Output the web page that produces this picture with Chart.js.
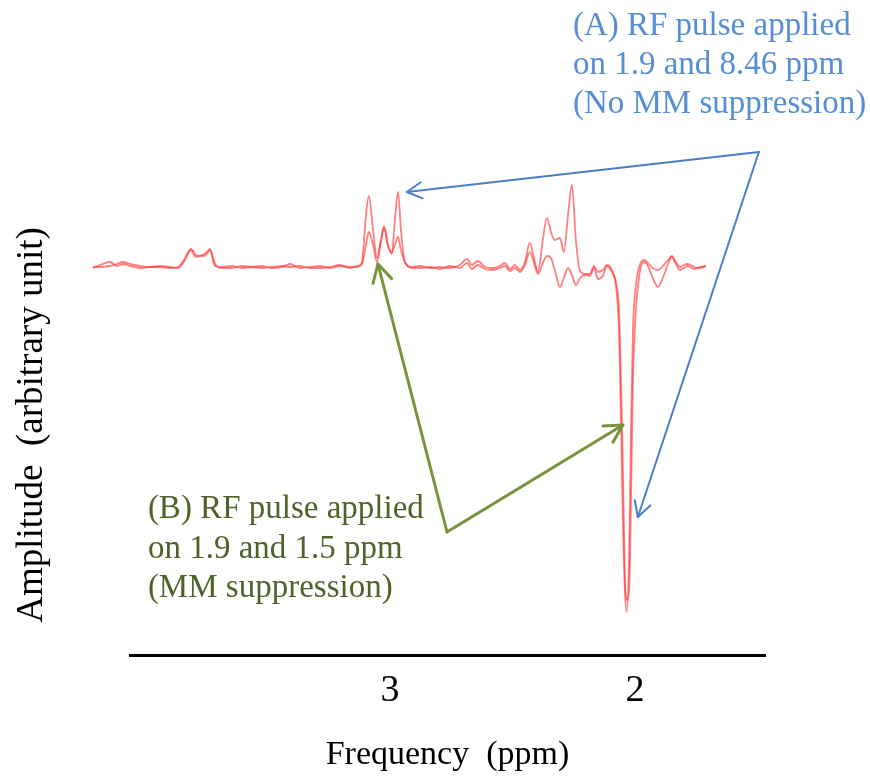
<!DOCTYPE html>
<html>
<head>
<meta charset="utf-8">
<script src="https://cdn.jsdelivr.net/npm/chart.js@4/dist/chart.umd.min.js"></script>
<style>
  body { margin: 0; background: #fff; }
  canvas { display: block; }
</style>
</head>
<body>
<canvas id="myChart" width="870" height="778"></canvas>
<script>
// frequency axis (ppm), shared by both spectra
const ppm = [
  4.212, 4.184, 4.143, 4.114, 4.090, 4.061, 4.020, 3.980, 3.939, 3.898,
  3.865, 3.841, 3.812, 3.792, 3.767, 3.751, 3.735, 3.714, 3.686, 3.645,
  3.604, 3.563, 3.522, 3.482, 3.441, 3.408, 3.367, 3.327, 3.286, 3.245,
  3.204, 3.163, 3.135, 3.114, 3.098, 3.086, 3.069, 3.053, 3.037, 3.024,
  3.008, 2.992, 2.980, 2.967, 2.955, 2.939, 2.910, 2.878, 2.837, 2.796,
  2.755, 2.714, 2.686, 2.665, 2.641, 2.612, 2.584, 2.551, 2.531, 2.510,
  2.490, 2.469, 2.449, 2.429, 2.412, 2.396, 2.376, 2.359, 2.343, 2.327,
  2.306, 2.290, 2.273, 2.257, 2.241, 2.224, 2.204, 2.184, 2.167, 2.151,
  2.131, 2.114, 2.094, 2.078, 2.065, 2.057, 2.049, 2.041, 2.033, 2.024,
  2.016, 2.008, 1.996, 1.980, 1.963, 1.947, 1.927, 1.906, 1.886, 1.865,
  1.849, 1.833, 1.816, 1.800, 1.784, 1.759, 1.735, 1.710,
];

// (A) RF pulse on 1.9 and 8.46 ppm, no MM suppression
const noSuppression = [
  -0.1, 0.2, 0.5, 0.1, 0.3, 0.1, -0.1, 0, 0, -0.1,
  0, 0.7, 1.8, 1.2, 1.1, 1.2, 1.8, 0.3, -0.1, -0.1,
  0.1, 0, 0.1, -0.1, 0, 0.3, -0.1, 0, 0.1, -0.1,
  0.1, 0, 0, 0.5, 5.2, 7.1, 3.7, 0.9, 2.7, 4.1,
  2.2, 1.3, 4.7, 7.5, 3.7, 0.5, 0, 0.1, -0.1, 0,
  -0.1, 0.2, 0.8, 0.2, 0.6, 0, -0.1, 0.1, 0.4, -0.2,
  0.2, -0.3, 0.5, 2.4, 0.9, -0.5, 2.7, 4.9, 3.5, 2.7,
  2.9, 1.5, 5.2, 8.2, 2.7, -0.4, -0.7, -0.7, 0.1, -0.5,
  -0.3, 0.2, -0.3, -1.8, -6.3, -15.3, -25.3, -32.3, -34.5, -29.3,
  -16.3, -6.3, -1.8, 0.2, 0.7, 0.4, -0.1, -0.3, 0.1, 0.7,
  1.1, 0.5, 0, 0.2, 0.3, 0, -0.1, 0.1,
];

// (B) RF pulse on 1.9 and 1.5 ppm, MM suppression
const mmSuppression = [
  0, 0, 0.1, 0.3, 0.5, 0.3, 0.1, 0, 0.1, 0,
  -0.1, 0.5, 1.7, 1.0, 1.2, 1.4, 1.7, 0.1, 0, 0.1,
  -0.1, 0, -0.1, 0, 0.1, 0, 0.1, -0.1, -0.1, 0,
  0.2, -0.1, 0.1, 0.3, 2.2, 3.5, 2.2, 0.5, 2.5, 3.9,
  2.1, 1.5, 2.2, 3.0, 1.7, 0.5, -0.1, -0.1, 0, -0.2,
  0.1, -0.1, 0.4, -0.2, 0.2, -0.2, -0.3, -0.1, 0.1, -0.4,
  -0.1, -0.5, 0.2, 1.5, 0.4, -0.7, 0.4, 1.1, 0.9, -0.3,
  -2.0, -1.1, -0.1, -0.8, -1.8, -1.1, -0.8, -0.9, -0.1, -1.2,
  -0.9, 0.1, -0.5, -1.5, -4.3, -11.3, -20.3, -30.8, -33.3, -32.3,
  -23.3, -11.3, -4.3, -0.5, 0.5, 0.1, -1.1, -2.0, -1.1, 0.3,
  1.0, 0.3, -0.3, -0.1, 0.1, -0.2, 0, 0.1,
];

const xTicks = [3, 2];

// annotation arrows and captions, in data units (ppm, amplitude)
const arrowsA = { from: [1.494, 11.5], to: [[2.931, 7.5], [1.988, -25.0]] };
const arrowsB = { from: [2.767, -26.5], to: [[3.049, 0.3], [2.049, -15.8]] };
const captionA = ['(A) RF pulse applied', 'on 1.9 and 8.46 ppm', '(No MM suppression)'];
const captionB = ['(B) RF pulse applied', 'on 1.9 and 1.5 ppm', '(MM suppression)'];
const captionAPos = { x: 2.253, y: [23.2, 19.3, 15.4] };
const captionBPos = { x: 3.988, y: [-25.1, -29.1, -33.0] };

const serif = '"Liberation Serif", "Times New Roman", serif';

function toPoints(values) {
  return ppm.map((x, i) => ({ x: x, y: values[i] }));
}

function drawArrow(ctx, x0, y0, x1, y1, head) {
  const ang = Math.atan2(y1 - y0, x1 - x0);
  ctx.beginPath();
  ctx.moveTo(x0, y0);
  ctx.lineTo(x1, y1);
  ctx.stroke();
  ctx.beginPath();
  ctx.moveTo(x1 - head * Math.cos(ang - 0.5), y1 - head * Math.sin(ang - 0.5));
  ctx.lineTo(x1, y1);
  ctx.lineTo(x1 - head * Math.cos(ang + 0.5), y1 - head * Math.sin(ang + 0.5));
  ctx.stroke();
}

const annotationPlugin = {
  id: 'annotations',
  afterDatasetsDraw(chart) {
    const ctx = chart.ctx;
    const xs = chart.scales.x;
    const ys = chart.scales.y;
    const px = (p) => [xs.getPixelForValue(p[0]), ys.getPixelForValue(p[1])];

    ctx.save();
    ctx.lineCap = 'round';
    ctx.lineJoin = 'round';

    // blue arrows (A)
    ctx.strokeStyle = '#4a7ec6';
    ctx.lineWidth = 2;
    const a0 = px(arrowsA.from);
    arrowsA.to.forEach((t) => {
      const a1 = px(t);
      drawArrow(ctx, a0[0], a0[1], a1[0], a1[1], 17);
    });

    // green arrows (B)
    ctx.strokeStyle = '#77933c';
    ctx.lineWidth = 3;
    const b0 = px(arrowsB.from);
    arrowsB.to.forEach((t) => {
      const b1 = px(t);
      drawArrow(ctx, b0[0], b0[1], b1[0], b1[1], 20);
    });

    // captions
    ctx.font = '33px ' + serif;
    ctx.textAlign = 'left';
    ctx.textBaseline = 'alphabetic';
    ctx.fillStyle = '#558ed5';
    captionA.forEach((line, i) => {
      ctx.fillText(line, xs.getPixelForValue(captionAPos.x), ys.getPixelForValue(captionAPos.y[i]));
    });
    ctx.fillStyle = '#4f6228';
    captionB.forEach((line, i) => {
      ctx.fillText(line, xs.getPixelForValue(captionBPos.x), ys.getPixelForValue(captionBPos.y[i]));
    });
    ctx.restore();
  },
};

const canvas = document.getElementById('myChart');

const chart = new Chart(canvas, {
  type: 'line',
  data: {
    datasets: [
      {
        label: 'No MM suppression',
        data: toPoints(noSuppression),
        borderColor: 'rgba(255, 60, 60, 0.65)',
        borderWidth: 1.8,
        pointRadius: 0,
        cubicInterpolationMode: 'monotone',
        fill: false,
        clip: false,
      },
      {
        label: 'MM suppression',
        data: toPoints(mmSuppression),
        borderColor: 'rgba(255, 60, 60, 0.65)',
        borderWidth: 1.8,
        pointRadius: 0,
        cubicInterpolationMode: 'monotone',
        fill: false,
        clip: false,
      },
    ],
  },
  options: {
    responsive: false,
    animation: false,
    layout: {
      padding: { top: 195, right: 105, bottom: 0, left: 0 },
    },
    plugins: {
      legend: { display: false },
      tooltip: { enabled: false },
    },
    scales: {
      x: {
        type: 'linear',
        reverse: true,
        min: 1.469,
        max: 4.061,
        afterBuildTicks: (axis) => {
          axis.ticks = xTicks.map((v) => ({ value: v }));
        },
        ticks: {
          color: '#000',
          padding: 13,
          font: { family: serif, size: 38 },
        },
        grid: { display: false, drawTicks: false },
        border: { display: true, color: '#000', width: 3 },
        title: {
          display: true,
          text: 'Frequency  (ppm)',
          color: '#000',
          font: { family: serif, size: 34 },
          padding: { top: 8, bottom: 2.6 },
        },
      },
      y: {
        min: -38.8,
        max: 7.2,
        ticks: { display: false },
        grid: { display: false, drawTicks: false },
        border: { display: false },
        title: {
          display: true,
          text: 'Amplitude  (arbitrary unit)',
          color: '#000',
          font: { family: serif, size: 37 },
          padding: { top: 9.8, bottom: 75.8 },
        },
      },
    },
  },
  plugins: [annotationPlugin],
});
</script>
</body>
</html>
